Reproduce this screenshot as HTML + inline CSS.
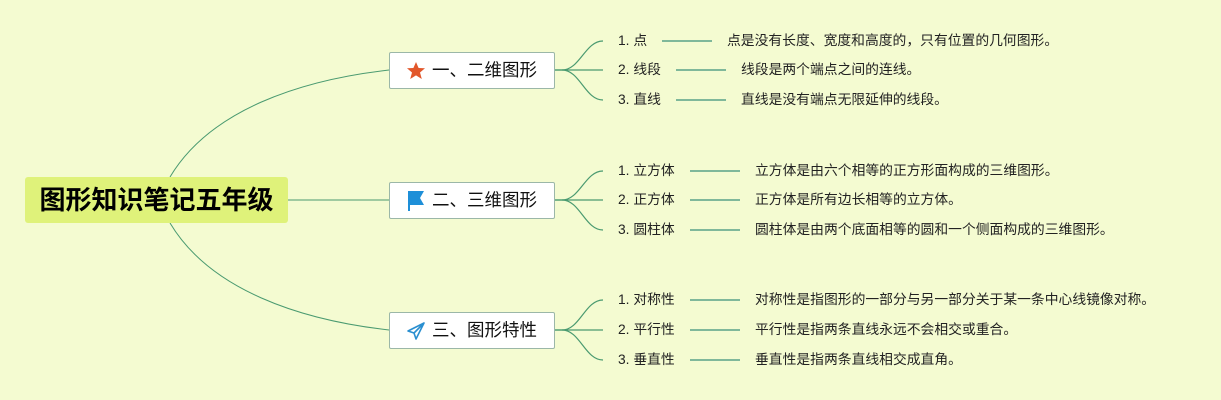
<!DOCTYPE html>
<html><head><meta charset="utf-8"><style>
body{margin:0;width:1221px;height:400px;background:#f4fbd1;overflow:hidden;position:relative;font-family:"Liberation Sans","Noto Sans CJK SC",sans-serif;}
.root{position:absolute;left:25px;top:177px;width:263px;height:46px;background:#dff27a;border-radius:3px;font-size:26px;font-weight:bold;text-align:center;line-height:46px;color:#000;}
.br{position:absolute;left:389px;width:164px;height:35px;background:#fff;border:1px solid #9bb7a8;border-radius:2px;font-size:17.5px;line-height:35px;color:#111;}
.br span{position:absolute;left:42px;}
.t{position:absolute;font-size:13.8px;color:#222;white-space:nowrap;line-height:16px;}
</style></head><body>
<svg width="1221" height="400" style="position:absolute;left:0;top:0" fill="none" stroke="#4a9a70" stroke-width="1">
<path d="M170,177 C210,110 300,80 389,70"/>
<path d="M288,200 L389,200"/>
<path d="M170,223 C210,290 300,320 389,330"/>
<g stroke-width="1.2">
<path d="M554,70 L562,70 C580,70 585,41 603,41"/><path d="M554,70 L603,70"/><path d="M562,70 C580,70 585,100 603,100"/>
<path d="M554,200 L562,200 C580,200 585,171 603,171"/><path d="M554,200 L603,200"/><path d="M562,200 C580,200 585,230 603,230"/>
<path d="M554,330 L562,330 C580,330 585,300 603,300"/><path d="M554,330 L603,330"/><path d="M562,330 C580,330 585,360 603,360"/>
<path d="M662,41H712M676,70H726M676,100H726M690,171H740M690,200H740M690,230H740M690,300H740M690,330H740M690,360H740" stroke="#7fb89a" stroke-width="2"/>
</g>
</svg>
<div class="root">图形知识笔记五年级</div>
<div class="br" style="top:52px"><svg style="position:absolute;left:16px;top:8px" width="20" height="19" viewBox="0 0 20 19"><polygon points="10,1 12.6,7 19,7.3 14,11.5 15.8,18 10,14.4 4.2,18 6,11.5 1,7.3 7.4,7" fill="#e2572b"/></svg><span>一、二维图形</span></div>
<div class="br" style="top:182px"><svg style="position:absolute;left:16px;top:7px" width="20" height="22" viewBox="0 0 20 22"><path d="M2,1 H18 L14,8 L18,15 H4 V21 H2 Z" fill="#1e8fd8"/></svg><span>二、三维图形</span></div>
<div class="br" style="top:312px"><svg style="position:absolute;left:16px;top:8px" width="20" height="20" viewBox="0 0 20 20"><path d="M18,2 L2,10 L8,12 L18,2 L10,18 L8,12" fill="none" stroke="#2a8fd0" stroke-width="1.6" stroke-linejoin="round"/></svg><span>三、图形特性</span></div>
<div class="t" style="left:618px;top:33px">1. 点</div><div class="t" style="left:727px;top:33px">点是没有长度、宽度和高度的，只有位置的几何图形。</div>
<div class="t" style="left:618px;top:62px">2. 线段</div><div class="t" style="left:741px;top:62px">线段是两个端点之间的连线。</div>
<div class="t" style="left:618px;top:92px">3. 直线</div><div class="t" style="left:741px;top:92px">直线是没有端点无限延伸的线段。</div>
<div class="t" style="left:618px;top:163px">1. 立方体</div><div class="t" style="left:755px;top:163px">立方体是由六个相等的正方形面构成的三维图形。</div>
<div class="t" style="left:618px;top:192px">2. 正方体</div><div class="t" style="left:755px;top:192px">正方体是所有边长相等的立方体。</div>
<div class="t" style="left:618px;top:222px">3. 圆柱体</div><div class="t" style="left:755px;top:222px">圆柱体是由两个底面相等的圆和一个侧面构成的三维图形。</div>
<div class="t" style="left:618px;top:292px">1. 对称性</div><div class="t" style="left:755px;top:292px">对称性是指图形的一部分与另一部分关于某一条中心线镜像对称。</div>
<div class="t" style="left:618px;top:322px">2. 平行性</div><div class="t" style="left:755px;top:322px">平行性是指两条直线永远不会相交或重合。</div>
<div class="t" style="left:618px;top:352px">3. 垂直性</div><div class="t" style="left:755px;top:352px">垂直性是指两条直线相交成直角。</div>
</body></html>
